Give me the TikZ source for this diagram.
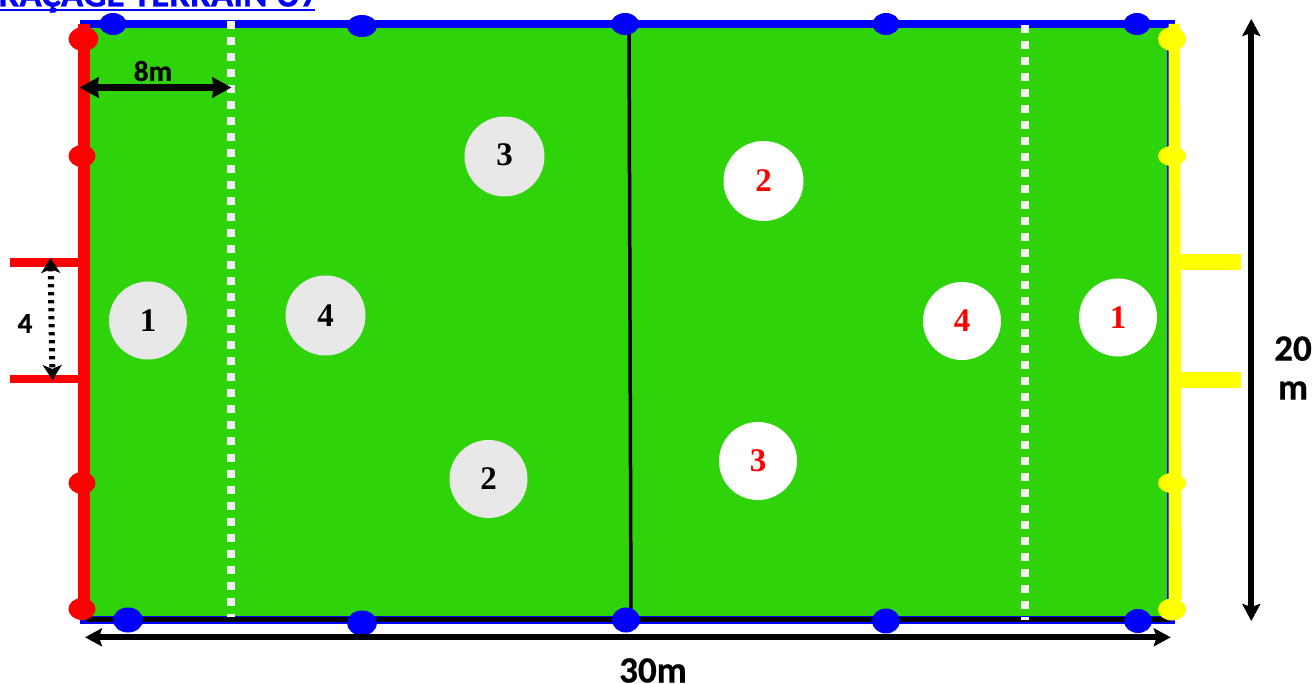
\documentclass[tikz,border=0pt]{standalone}
\usepackage{fontspec}
\setmainfont{Carlito}[BoldFeatures={FakeBold=0.6}]
\newfontfamily\numfont{Liberation Serif}
\usetikzlibrary{arrows.meta,shapes.geometric}
\definecolor{pitch}{HTML}{2ED30A}
\definecolor{lightgrey}{HTML}{E8E8E8}
\definecolor{dashwhite}{HTML}{F2F2F2}
\definecolor{pureblue}{HTML}{0000FF}
\definecolor{purered}{HTML}{FF0000}
\definecolor{pureyellow}{HTML}{FFFF00}
\tikzset{
  x=1pt,y=-1pt,
  spot/.style={circle,minimum size=#1,inner sep=0pt},
  greyspot/.style={spot=#1,fill=lightgrey,text=black},
  whitespot/.style={spot=#1,fill=white,text=purered},
  num/.style={font=\fontsize{33}{33}\selectfont\numfont\bfseries},
  bigtip/.style={line width=6.5pt,{Stealth[length=19pt,width=20pt,inset=1pt]}-{Stealth[length=19pt,width=20pt,inset=1pt]}},
  thintip/.style={line width=6pt,{Stealth[length=17pt,width=18pt,inset=3pt]}-{Stealth[length=17pt,width=18pt,inset=3pt]}},
  dimlabel/.style={font=\fontsize{37}{39}\selectfont\bfseries,inner sep=0pt,align=center},
  smalllabel/.style={font=\fontsize{29}{29}\selectfont\bfseries,inner sep=0pt},
  halfline/.style={line width=8pt,draw=dashwhite,dash pattern=on 8pt off 8pt},
  cone/.style args={#1/#2/#3}{fill=#1,draw=none,minimum width=#2,minimum height=#3,ellipse,inner sep=0pt},
}
\begin{document}
\begin{tikzpicture}
\useasboundingbox (0,0) rectangle (1312,684);
\clip (0,0) rectangle (1312,684);
% title
\node[anchor=base west,inner sep=0pt,text=pureblue,font=\fontsize{37}{37}\selectfont\bfseries] (title) at (-20,6.5) {TRAÇAGE TERRAIN U7};
\coordinate (ulA) at (0,10); \coordinate (ulB) at (315,10);
\draw[pureblue,line width=2pt] (ulA) -- (ulB);
% pitch
\fill[pitch] (90,28) rectangle (1168,617);
\fill[pureblue] (80.3,20) rectangle (1174.5,28.3);
\fill[pureblue] (80.3,616) rectangle (1174.5,624.3);
\fill[black] (86,617.4) rectangle (1170,622);
\fill[pureblue] (1166.8,28) rectangle (1170,617);
% half lines
\coordinate (hlA) at (231,21.5); \coordinate (hlB) at (231,617);
\coordinate (hrA) at (1024.5,25); \coordinate (hrB) at (1024.5,620);
\draw[halfline] (hlA) -- (hlB);
\draw[halfline] (hrA) -- (hrB);
% middle line
\coordinate (midA) at (629,28); \coordinate (midB) at (631,617);
\draw[line width=3.5pt] (midA) -- (midB);
% side lines
\fill[purered] (78.3,24) rectangle (90.3,610);
\fill[pureyellow] (1168.5,24) -- (1180,24) -- (1181.7,600) -- (1168.5,600) -- cycle;
% posts
\coordinate (prA) at (10,262.5); \coordinate (prB) at (78.5,262.5);
\coordinate (prC) at (10,379.3); \coordinate (prD) at (78.5,379.3);
\draw[purered,line width=8.2pt] (prA) -- (prB);
\draw[purered,line width=8.2pt] (prC) -- (prD);
\coordinate (pyA) at (1180,262.3); \coordinate (pyB) at (1241,262.3);
\coordinate (pyC) at (1180,379.7); \coordinate (pyD) at (1241,379.7);
\draw[pureyellow,line width=16.2pt] (pyA) -- (pyB);
\draw[pureyellow,line width=16.2pt] (pyC) -- (pyD);
% cones
\node[cone=purered/30pt/24pt] (r1) at (83.5,39) {};
\node[cone=purered/27pt/22pt] (r2) at (82,156) {};
\node[cone=purered/27pt/22pt] (r3) at (82,483) {};
\node[cone=purered/27pt/22pt] (r4) at (82,609) {};
\node[cone=pureyellow/28pt/24pt] (y1) at (1172,39) {};
\node[cone=pureyellow/28pt/20pt] (y2) at (1172,156) {};
\node[cone=pureyellow/28pt/20pt] (y3) at (1172,483) {};
\node[cone=pureyellow/28pt/22pt] (y4) at (1172,609.5) {};
\node[cone=pureblue/27pt/22pt] (bt1) at (113,24) {};
\node[cone=pureblue/30pt/22pt] (bt2) at (362,26) {};
\node[cone=pureblue/28pt/22pt] (bt3) at (625,24) {};
\node[cone=pureblue/27pt/22pt] (bt4) at (886,24) {};
\node[cone=pureblue/27pt/22pt] (bt5) at (1137,24) {};
\node[cone=pureblue/30pt/25pt] (bb1) at (128,620) {};
\node[cone=pureblue/30pt/25pt] (bb2) at (362,623) {};
\node[cone=pureblue/28pt/25pt] (bb3) at (626,620) {};
\node[cone=pureblue/28pt/25pt] (bb4) at (886,621) {};
\node[cone=pureblue/28pt/24pt] (bb5) at (1138,621) {};
% players
\node[greyspot=78pt,num] (g1) at (148,320.5) {1};
\node[greyspot=80pt,num] (g4) at (325.5,315.5) {4};
\node[greyspot=80pt,num] (g3) at (504.5,156.5) {\raisebox{3pt}{3}};
\node[greyspot=78pt,num] (g2) at (488.5,479) {2};
\node[whitespot=80pt,num] (w2) at (763.5,181) {2};
\node[whitespot=78pt,num] (w4) at (962,321) {4};
\node[whitespot=78pt,num] (w1) at (1118,317.5) {1};
\node[whitespot=78pt,num] (w3) at (758,461) {3};
% dimensions
\coordinate (d8A) at (79.5,87.5); \coordinate (d8B) at (231.5,87.5);
\draw[bigtip] (d8A) -- (d8B);
\node[smalllabel] (l8) at (153,71) {8m};
\coordinate (d30A) at (85,637.3); \coordinate (d30B) at (1170.7,637.3);
\draw[thintip] (d30A) -- (d30B);
\node[dimlabel] (l30) at (653,670.5) {30m};
\coordinate (d20A) at (1251.3,19); \coordinate (d20B) at (1251.3,621);
\draw[thintip] (d20A) -- (d20B);
\node[dimlabel] (l20) at (1293,368) {20\\m};
\coordinate (d4A) at (50.5,258); \coordinate (d4B) at (52.5,380);
\draw[line width=6pt,dash pattern=on 3.2pt off 4.8pt,{Stealth[length=15pt,width=19pt,inset=4pt]}-{Stealth[length=15pt,width=19pt,inset=4pt]}] (d4A) -- (d4B);
\node[smalllabel] (l4) at (25,323.5) {4};
\end{tikzpicture}
\end{document}
